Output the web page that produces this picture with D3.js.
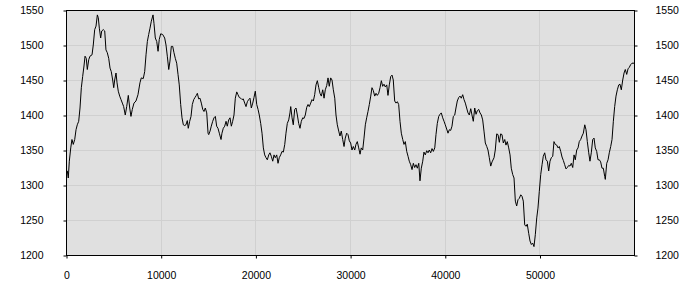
<!DOCTYPE html>
<html>
<head>
<meta charset="utf-8">
<script src="https://cdn.jsdelivr.net/npm/d3@7/dist/d3.min.js"></script>
<style>
  body { margin: 0; background: #fff; }
  svg text { font-family: "Liberation Sans", Arial, sans-serif; font-size: 10.5px; fill: #000; }
</style>
</head>
<body>
<svg id="chart" width="700" height="300"></svg>
<script>
  // sample positions and values
  var xValues = [0, 140, 240, 350, 500, 630, 770, 920, 1060, 1190, 1340, 1480, 1620, 1760, 1900, 2010, 2140, 2250, 2400, 2530, 2750, 2880, 3030, 3170, 3310, 3410, 3520, 3660, 3770, 3940, 4090, 4220, 4360, 4510, 4650, 4780, 4930, 5040, 5140, 5280, 5390, 5520, 5670, 5810, 5950, 6090, 6260, 6410, 6580, 6730, 6860, 7000, 7180, 7390, 7600, 7810, 7950, 8160, 8310, 8450, 8590, 8730, 8870, 9010, 9190, 9290, 9430, 9580, 9720, 9850, 10000, 10210, 10420, 10560, 10700, 10850, 10980, 11120, 11270, 11400, 11540, 11690, 11830, 11960, 12110, 12250, 12390, 12530, 12670, 12810, 12910, 13060, 13200, 13340, 13490, 13620, 13760, 13870, 14010, 14150, 14290, 14440, 14570, 14710, 14860, 15000,
    15070, 15210, 15340, 15490, 15630, 15770, 15910, 16050, 16190, 16370, 16470, 16610, 16760, 16900, 17030, 17180, 17320, 17460, 17600, 17740, 17880, 18030, 18160, 18300, 18450, 18590, 18720, 18870, 19010, 19150, 19290, 19430, 19570, 19720, 19850, 19990, 20140, 20280, 20410, 20560, 20700, 20840, 20980, 21120, 21260, 21410, 21540, 21680, 21830, 21970, 22100, 22250, 22390, 22520, 22670, 22810, 22950, 23100, 23230, 23370, 23520, 23650, 23730, 23870, 24000, 24150, 24290, 24430, 24570, 24710, 24850, 25000, 25130, 25270, 25420, 25560, 25690, 25840, 25980, 26120, 26260, 26400, 26540, 26690, 26820, 26960, 27110, 27250, 27380, 27530, 27670, 27800, 27950, 28090, 28230, 28380, 28510, 28650, 28800, 28930, 29070, 29220, 29360, 29490, 29640, 29780, 29920,
    30060, 30200, 30340, 30490, 30620, 30760, 30910, 31050, 31180, 31330, 31470, 31610, 31750, 31890, 32030, 32180, 32310, 32450, 32600, 32740, 32870, 33020, 33160, 33300, 33440, 33580, 33720, 33870, 34000, 34140, 34290, 34430, 34560, 34710, 34850, 34990, 35130, 35270, 35410, 35560, 35690, 35830, 35980, 36120, 36250, 36400, 36540, 36680, 36820, 36960, 37100, 37250, 37380, 37520, 37670, 37800, 37940, 38090, 38230, 38360, 38510, 38650, 38790, 38940, 39070, 39210, 39360, 39490, 39630, 39780, 39920, 40050, 40200, 40340, 40480, 40620, 40760, 40900, 41050, 41180, 41320, 41470, 41610, 41740, 41890, 42030, 42170, 42310, 42450, 42590, 42740, 42870, 43010, 43160, 43300, 43430, 43580, 43720, 43860, 44000, 44140, 44280, 44430, 44560, 44700, 44850, 44990,
    45200, 45330, 45480, 45620, 45760, 45900, 46040, 46180, 46330, 46460, 46600, 46750, 46890, 47020, 47170, 47310, 47450, 47590, 47730, 47870, 48020, 48150, 48290, 48440, 48580, 48710, 48860, 49000, 49140, 49280, 49420, 49560, 49710, 49840, 49980, 50130, 50270, 50400, 50550, 50690, 50830, 50970, 51110, 51250, 51400, 51530, 51670, 51820, 51960, 52090, 52240, 52380, 52520, 52660, 52800, 52940, 53090, 53220, 53360, 53510, 53650, 53780, 53930, 54070, 54200, 54350, 54490, 54630, 54780, 54910, 55050, 55200, 55330, 55470, 55620, 55760, 55890, 56040, 56180, 56320, 56460, 56600, 56740, 56890, 56950, 57100, 57240, 57370, 57520, 57660, 57800, 57940, 58080, 58220, 58370, 58500, 58640, 58790, 58930, 59060, 59210, 59350, 59480, 59630, 59770, 59980];

  var yValues = [1320, 1320, 1310, 1334, 1353, 1365, 1358, 1365, 1379, 1386, 1391, 1410, 1439, 1455, 1470, 1484, 1481, 1465, 1479, 1484, 1486, 1500, 1522, 1527, 1543, 1539, 1524, 1510, 1520, 1522, 1520, 1493, 1489, 1481, 1467, 1462, 1450, 1439, 1450, 1460, 1446, 1434, 1427, 1422, 1417, 1412, 1400, 1412, 1428, 1410, 1398, 1408, 1417, 1420, 1429, 1446, 1453, 1452, 1462, 1486, 1505, 1515, 1524, 1534, 1543, 1531, 1510, 1505, 1491, 1508, 1516, 1515, 1510, 1500, 1484, 1465, 1477, 1498, 1498, 1489, 1481, 1474, 1458, 1443, 1415, 1396, 1386, 1385, 1386, 1392, 1381, 1391, 1398, 1415, 1422, 1425, 1428, 1431, 1423, 1424, 1417, 1408, 1405, 1410, 1403, 1374,
    1372, 1377, 1384, 1391, 1396, 1398, 1384, 1381, 1374, 1365, 1374, 1381, 1384, 1391, 1384, 1393, 1396, 1384, 1391, 1400, 1424, 1433, 1429, 1425, 1424, 1422, 1423, 1417, 1412, 1419, 1422, 1424, 1410, 1417, 1425, 1434, 1415, 1408, 1400, 1388, 1374, 1353, 1343, 1339, 1336, 1343, 1346, 1341, 1334, 1343, 1339, 1343, 1331, 1339, 1343, 1348, 1347, 1358, 1374, 1388, 1393, 1403, 1412, 1396, 1386, 1408, 1410, 1400, 1388, 1381, 1391, 1396, 1395, 1400, 1411, 1415, 1412, 1417, 1422, 1420, 1429, 1443, 1449, 1439, 1431, 1427, 1436, 1424, 1436, 1442, 1453, 1441, 1453, 1450, 1436, 1424, 1400, 1386, 1377, 1370, 1377, 1365, 1355, 1367, 1374, 1372, 1363,
    1360, 1350, 1355, 1350, 1358, 1362, 1353, 1344, 1353, 1350, 1367, 1386, 1396, 1405, 1415, 1427, 1439, 1435, 1427, 1431, 1428, 1431, 1439, 1449, 1441, 1444, 1440, 1443, 1428, 1443, 1455, 1457, 1450, 1420, 1417, 1419, 1415, 1391, 1374, 1365, 1358, 1362, 1348, 1341, 1334, 1329, 1322, 1331, 1325, 1329, 1324, 1331, 1306, 1324, 1334, 1347, 1343, 1349, 1346, 1350, 1346, 1352, 1348, 1353, 1372, 1388, 1398, 1401, 1403, 1396, 1391, 1386, 1380, 1374, 1379, 1378, 1384, 1398, 1400, 1410, 1420, 1425, 1427, 1424, 1429, 1422, 1417, 1410, 1403, 1400, 1409, 1400, 1391, 1410, 1401, 1406, 1408, 1403, 1400, 1393, 1377, 1360, 1355, 1350, 1339, 1327, 1333,
    1339, 1350, 1373, 1372, 1361, 1373, 1372, 1360, 1365, 1357, 1362, 1353, 1343, 1324, 1315, 1310, 1277, 1270, 1279, 1281, 1286, 1284, 1277, 1243, 1241, 1244, 1231, 1220, 1215, 1217, 1212, 1229, 1253, 1267, 1291, 1315, 1329, 1341, 1346, 1336, 1334, 1320, 1334, 1339, 1341, 1362, 1358, 1357, 1353, 1355, 1348, 1340, 1335, 1329, 1323, 1325, 1328, 1327, 1331, 1325, 1343, 1336, 1350, 1353, 1362, 1365, 1370, 1374, 1386, 1379, 1362, 1346, 1334, 1346, 1365, 1367, 1353, 1348, 1336, 1336, 1333, 1324, 1324, 1312, 1308, 1331, 1336, 1346, 1355, 1365, 1391, 1412, 1427, 1436, 1443, 1444, 1436, 1450, 1460, 1465, 1458, 1466, 1468, 1472, 1474, 1474];

  var yTicks = [1200, 1250, 1300, 1350, 1400, 1450, 1500, 1550];
  var xTicks = [0, 10000, 20000, 30000, 40000, 50000];

  var data = xValues.map((x, i) => ({ x: x, y: yValues[i] }));

  var plotLeft = 66, plotRight = 634, plotTop = 10, plotBottom = 255;
  var svg = d3.select('#chart');

  var x = d3.scaleLinear().domain(d3.extent(xValues)).range([plotLeft, plotRight]);
  var y = d3.scaleLinear().domain([1200, 1550]).range([plotBottom, plotTop]);

  // plot background
  svg.append('rect')
    .attr('x', plotLeft).attr('y', plotTop)
    .attr('width', plotRight - plotLeft).attr('height', plotBottom - plotTop)
    .attr('fill', '#e0e0e0');

  // grid
  svg.append('g').selectAll('line')
    .data(yTicks.slice(1, -1))
    .join('line')
    .attr('x1', plotLeft).attr('x2', plotRight)
    .attr('y1', d => Math.round(y(d)) + 0.5).attr('y2', d => Math.round(y(d)) + 0.5)
    .attr('stroke', '#d0d0d0');

  svg.append('g').selectAll('line')
    .data(xTicks.slice(1))
    .join('line')
    .attr('y1', plotTop).attr('y2', plotBottom)
    .attr('x1', d => Math.round(x(d)) + 0.5).attr('x2', d => Math.round(x(d)) + 0.5)
    .attr('stroke', '#d0d0d0');

  // the series
  var line = d3.line().x(d => x(d.x)).y(d => y(d.y));
  svg.append('path')
    .datum(data)
    .attr('d', line)
    .attr('fill', 'none')
    .attr('stroke', '#000')
    .attr('stroke-width', 1);

  // frame
  svg.append('rect')
    .attr('x', plotLeft + 0.5).attr('y', plotTop + 0.5)
    .attr('width', plotRight - plotLeft).attr('height', plotBottom - plotTop)
    .attr('fill', 'none')
    .attr('stroke', '#000');

  // axes
  var yl = svg.append('g').attr('transform', `translate(${plotLeft + 0.5},0.5)`)
    .call(d3.axisLeft(y).tickValues(yTicks).tickSize(3).tickPadding(20).tickFormat(d3.format('d')));
  var yr = svg.append('g').attr('transform', `translate(${plotRight + 0.5},0.5)`)
    .call(d3.axisRight(y).tickValues(yTicks).tickSize(3).tickPadding(18).tickFormat(d3.format('d')));
  var xb = svg.append('g').attr('transform', `translate(0.5,${plotBottom + 0.5})`)
    .call(d3.axisBottom(x).tickValues(xTicks).tickSize(3).tickPadding(13).tickFormat(d3.format('d')));

  [yl, yr, xb].forEach(g => {
    g.select('.domain').remove();
    g.selectAll('.tick line').attr('stroke', '#000');
    g.selectAll('text').attr('font-family', null).attr('font-size', null);
  });
</script>
</body>
</html>
